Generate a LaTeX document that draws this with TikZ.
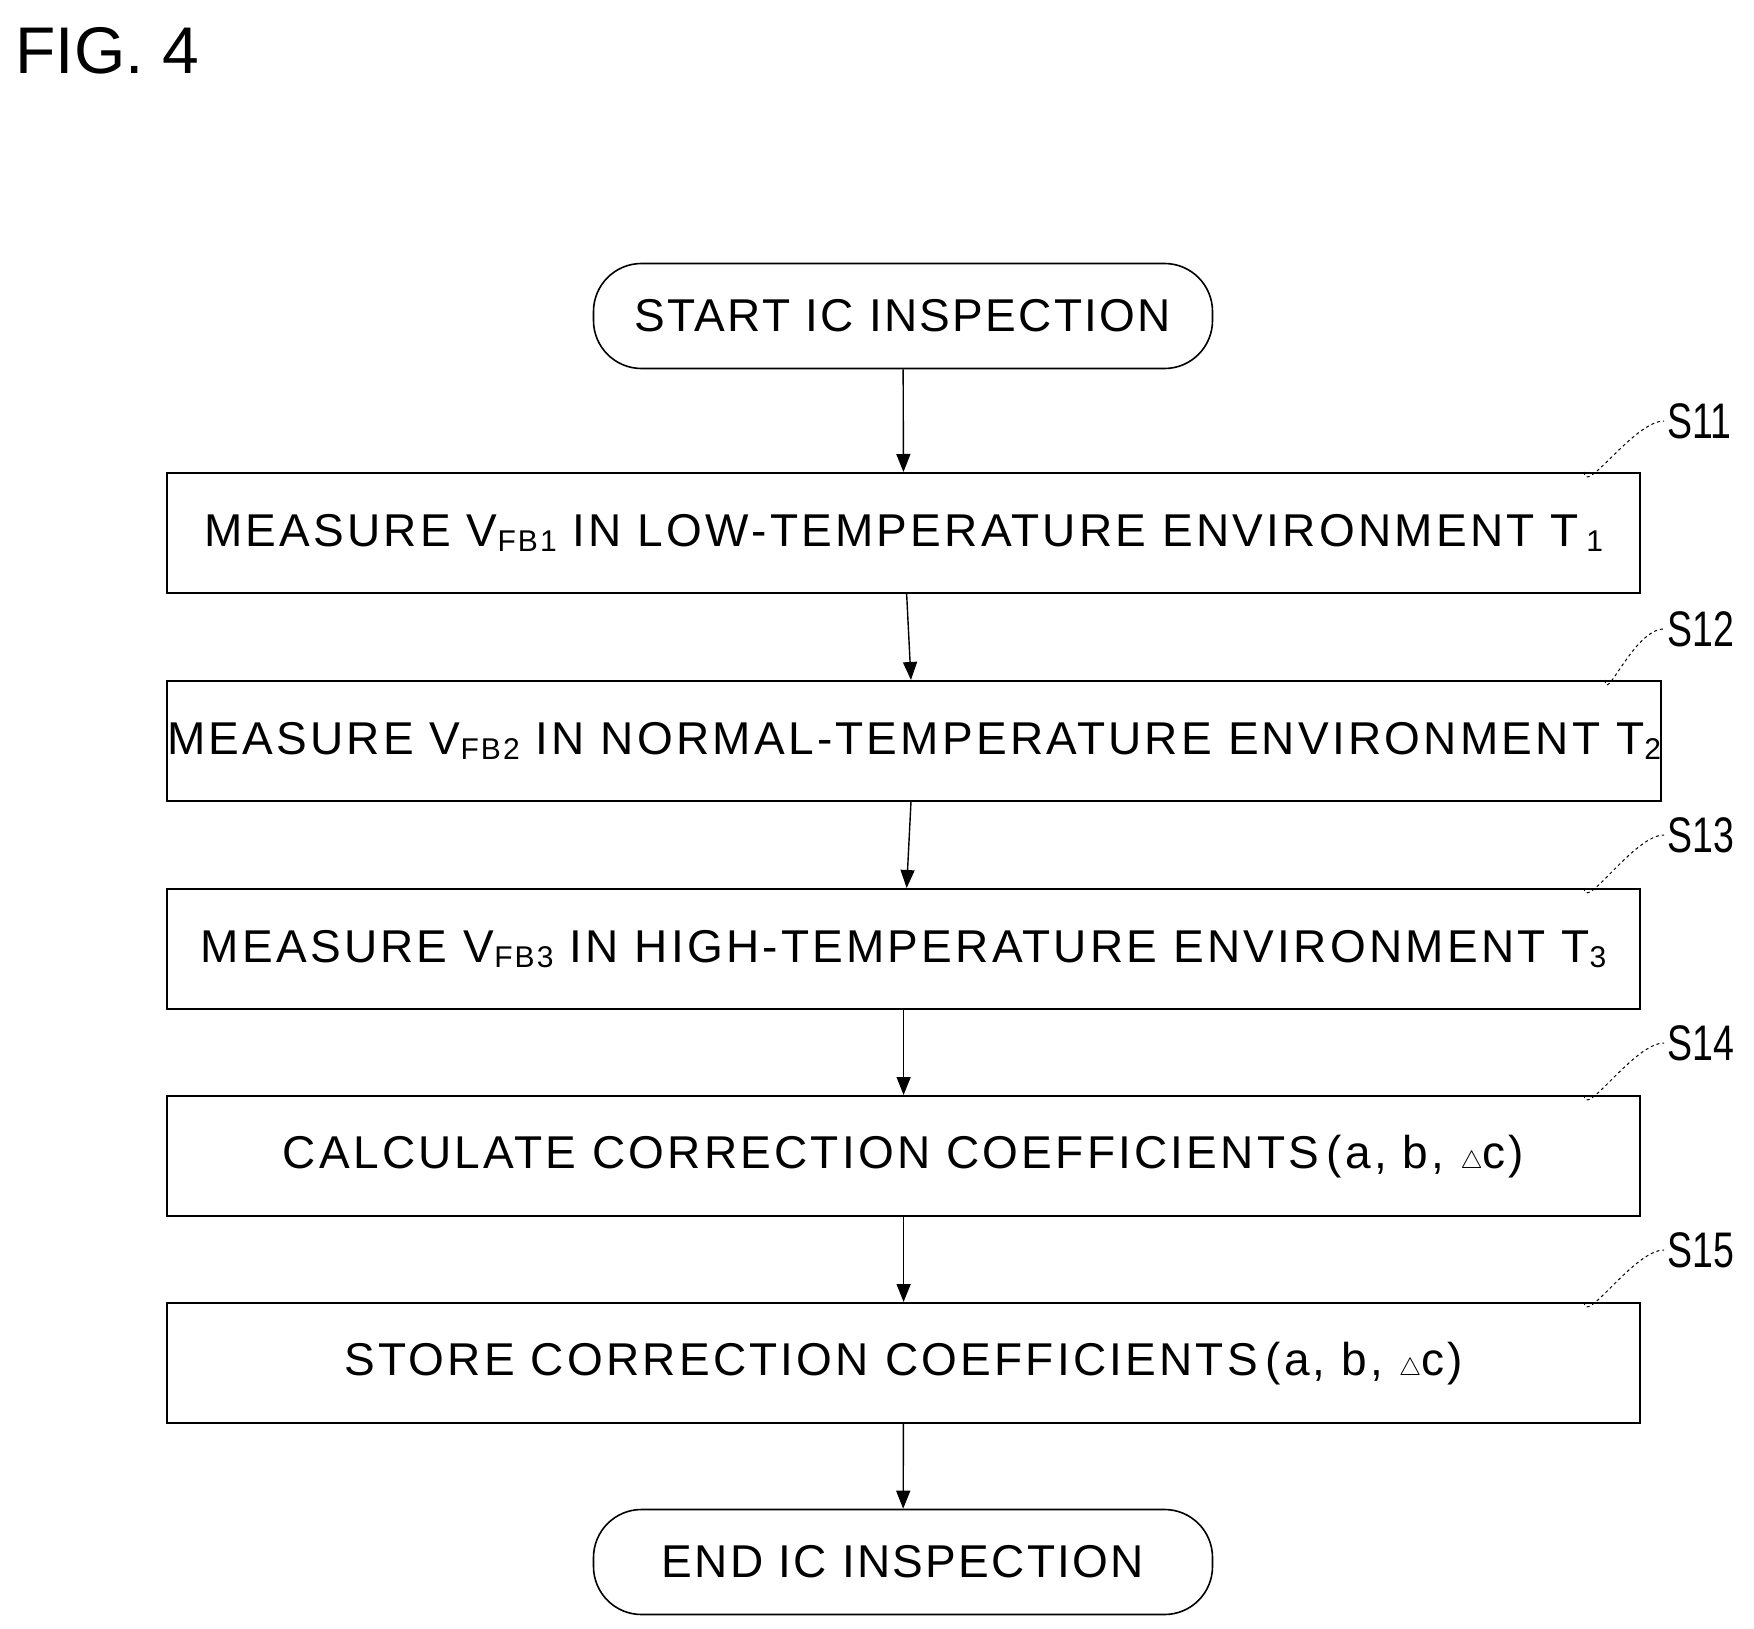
\documentclass[tikz,border=0pt]{standalone}
\usepackage{fontspec}
\setmainfont{Liberation Sans}
\usetikzlibrary{arrows.meta}
\begin{document}
\begin{tikzpicture}[x=1pt,y=-1pt,
 box/.style={draw,line width=2.2pt,minimum width=1473pt,minimum height=120pt,anchor=north west,inner sep=0pt,font=\fontsize{46}{50}\selectfont\addfontfeature{LetterSpace=7}},
 term/.style={draw,line width=1.6pt,rounded corners=48pt,minimum width=619pt,minimum height=105pt,font=\fontsize{46}{50}\selectfont\addfontfeature{LetterSpace=5}},
 arr/.style={line width=1.4pt,-{Triangle[length=18pt,width=14pt]}},
 lead/.style={line width=1pt,dash pattern=on 3pt off 3pt},
 lab/.style={font=\fontsize{50}{50}\selectfont\addfontfeature{FakeStretch=0.75}}]
\useasboundingbox (0,0) rectangle (1754,1629);
\node[anchor=west,font=\fontsize{66}{70}\selectfont] (fig) at (12,51) {FIG. 4};
\newcommand\mysb[1]{\raisebox{-0.1em}{\fontsize{30}{30}\selectfont #1}}
\node[term] (st) at (903,316) {START IC INSPECTION};
\node[box] (b1) at (166,472) {MEASURE V\mysb{FB1} IN LOW-TEMPERATURE ENVIRONMENT T\,\mysb{1}};
\node[box] (b2) at (166,680) {MEASURE V\mysb{FB2} IN NORMAL-TEMPERATURE ENVIRONMENT T\mysb{2}};
\node[box] (b3) at (166,888) {MEASURE V\mysb{FB3} IN HIGH-TEMPERATURE ENVIRONMENT T\mysb{3}};
\node[box] (b4) at (166,1095) {CALCULATE CORRECTION COEFFICIENTS\,(a, b, $\bigtriangleup$c)};
\node[box] (b5) at (166,1302) {STORE CORRECTION COEFFICIENTS\,(a, b, $\bigtriangleup$c)};
\node[term] (en) at (903,1562) {END IC INSPECTION};
\draw[arr] (st) -- (b1);
\draw[arr] (b1) -- (b2);
\draw[arr] (b2) -- (b3);
\draw[arr] (b3) -- (b4);
\draw[arr] (b4) -- (b5);
\draw[arr] (b5) -- (en);
\foreach \b/\t/\y in {b1/S11/421,b2/S12/629,b3/S13/835,b4/S14/1043,b5/S15/1250}{
 \node[lab,anchor=west] (l\t) at (1664,\y) {\t};
 \coordinate (c\t) at ([xshift=-57pt]\b.north east);
 \draw[lead] (c\t) .. controls ([yshift=-25pt]c\t) and ([xshift=-30pt]l\t.west) .. (l\t.west);
}
\end{tikzpicture}
\end{document}
